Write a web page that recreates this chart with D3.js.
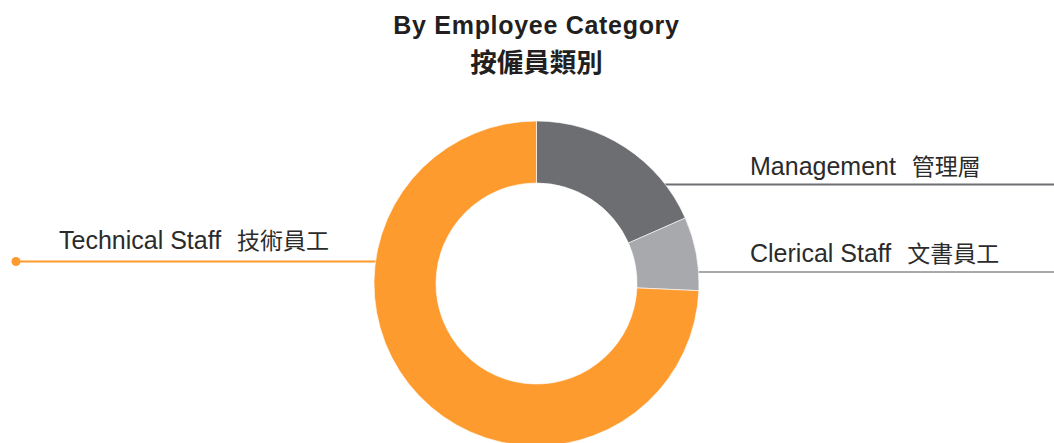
<!DOCTYPE html>
<html>
<head>
<meta charset="utf-8">
<script src="https://cdn.jsdelivr.net/npm/d3@7"></script>
<style>
  html, body { margin: 0; padding: 0; background: #fff; }
  svg { display: block; }
  text { white-space: pre; }
</style>
</head>
<body>
<div id="chart"></div>
<script>
// data (share of staff, %)
const categories = ['Management', 'Clerical Staff', 'Technical Staff'];
const labelsZh = ['管理層', '文書員工', '技術員工'];
const values = [18.4, 7.3, 74.3];

const width = 1054;
const height = 443;
const cx = 536.5;
const cy = 283.5;
const outerR = 162.5;
const innerR = 100.5;

const color = d3.scaleOrdinal()
  .domain(categories)
  .range(['#6d6e71', '#a7a9ac', '#fe9b2f']);

// where each leader line leaves the ring (offset from centre) and which side it goes
const leaders = {
  'Management': { dy: -99, side: 'right' },
  'Clerical Staff': { dy: -11.5, side: 'right' },
  'Technical Staff': { dy: -22, side: 'left' }
};

const svg = d3.select('#chart')
  .append('svg')
  .attr('width', width)
  .attr('height', height);

// title
svg.append('text')
  .attr('x', cx)
  .attr('y', 34)
  .attr('text-anchor', 'middle')
  .style('font-family', '"Liberation Sans", Arial, sans-serif')
  .style('font-weight', 'bold')
  .style('font-size', '25px')
  .style('letter-spacing', '0.7px')
  .style('fill', '#231f20')
  .text('By Employee Category');

svg.append('text')
  .attr('x', cx)
  .attr('y', 72)
  .attr('text-anchor', 'middle')
  .style('font-family', '"Noto Sans CJK TC", "Noto Sans CJK SC", sans-serif')
  .style('font-weight', 'bold')
  .style('font-size', '26.5px')
  .style('fill', '#231f20')
  .text('按僱員類別');

const data = categories.map((c, i) => ({ name: c, zh: labelsZh[i], value: values[i] }));

function addLabel(g, x, y, d) {
  const t = g.append('text')
    .attr('x', x)
    .attr('y', y)
    .style('font-family', '"Liberation Sans", Arial, sans-serif')
    .style('font-size', '25px')
    .style('fill', '#2b2b2b');
  t.append('tspan').text(d.name + '  ');
  t.append('tspan')
    .attr('dx', 2)
    .style('font-family', '"Noto Sans CJK TC", sans-serif')
    .style('font-size', '23px')
    .text(d.zh);
}

// leader lines + labels (drawn first so the ring sits on top)
const lab = svg.append('g');
data.forEach((d) => {
  const L = leaders[d.name];
  const y = cy + L.dy;
  const dx = Math.sqrt(outerR * outerR - L.dy * L.dy);
  if (L.side === 'right') {
    lab.append('line')
      .attr('x1', cx + dx - 2).attr('x2', width)
      .attr('y1', y).attr('y2', y)
      .attr('stroke', color(d.name))
      .attr('stroke-width', 2);
    addLabel(lab, 750, y - 10, d);
  } else {
    lab.append('line')
      .attr('x1', 16).attr('x2', cx - dx + 2)
      .attr('y1', y).attr('y2', y)
      .attr('stroke', color(d.name))
      .attr('stroke-width', 2);
    lab.append('circle')
      .attr('cx', 16).attr('cy', y)
      .attr('r', 4.5)
      .attr('fill', color(d.name));
    addLabel(lab, 59, y - 12.5, d);
  }
});

const pie = d3.pie().sort(null).value((d) => d.value);
const arc = d3.arc().innerRadius(innerR).outerRadius(outerR);

svg.append('g')
  .attr('transform', `translate(${cx}, ${cy})`)
  .selectAll('path')
  .data(pie(data))
  .enter()
  .append('path')
  .attr('d', arc)
  .attr('fill', (d) => color(d.data.name))
  .attr('stroke', '#fff')
  .attr('stroke-width', 0.6);
</script>
</body>
</html>
